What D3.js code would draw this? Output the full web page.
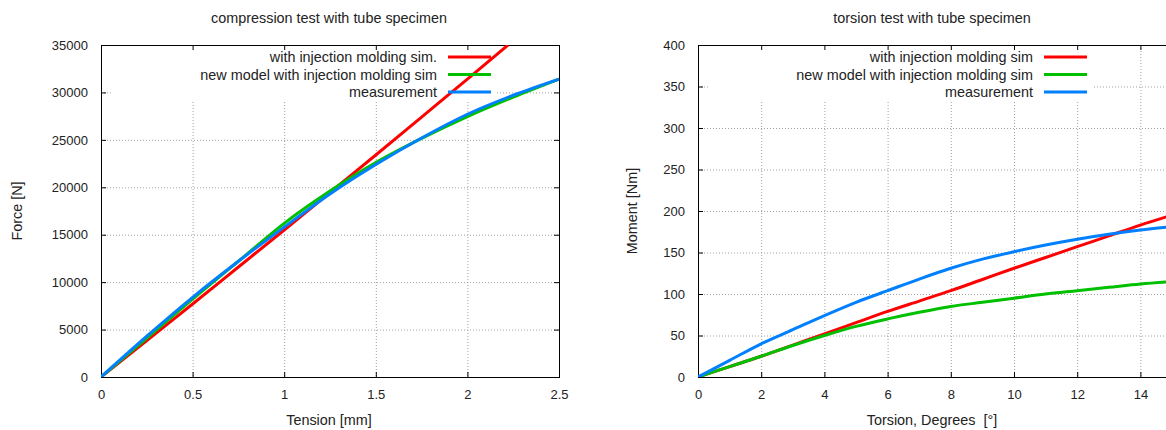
<!DOCTYPE html>
<html lang="en">
<head>
<meta charset="UTF-8">
<title>compression and torsion test with tube specimen</title>
<script src="https://d3js.org/d3.v7.min.js"></script>
<style>
  body { margin: 0; background: #fff; }
  svg text { font-family: "Liberation Sans", Arial, sans-serif; fill: #222; white-space: pre; }
</style>
</head>
<body>
<div id="chart"></div>
<script>
// ---- data ----
const seriesNames = ["with injection molding sim.", "new model with injection molding sim", "measurement"];
const seriesNames2 = ["with injection molding sim", "new model with injection molding sim", "measurement"];
const seriesColors = ["#ff0000", "#00c000", "#0080ff"];

// compression test: tension [mm] -> force [N]
const compTension = [0, 0.25, 0.5, 0.75, 1.0, 1.25, 1.5, 1.75, 2.0, 2.222];
const compSim = [0, 3850, 7700, 11600, 15500, 19450, 23400, 27400, 31400, 35000];
const compX = [0, 0.25, 0.5, 0.75, 1.0, 1.25, 1.5, 1.75, 2.0, 2.25, 2.5];
const compNew = [0, 4100, 8200, 12200, 16200, 19600, 22600, 25150, 27450, 29500, 31400];
const compMeas = [0, 4300, 8400, 12200, 15800, 19300, 22400, 25200, 27700, 29700, 31400];

// torsion test: degrees -> moment [Nm]
const torsX = [0, 1, 2, 3, 4, 5, 6, 7, 8, 9, 10, 11, 12, 13, 14, 15];
const torsSim = [0, 12.5, 25, 38.5, 52, 65.5, 79, 91.5, 104, 117.5, 131, 144, 157, 170, 183, 195];
const torsNew = [0, 12.5, 25, 38, 50, 61, 70, 78, 85, 90, 95, 100, 104, 108, 112, 115];
const torsMeas = [0, 20, 40, 57, 74, 90, 104, 118, 131, 142, 151, 159, 166, 172, 177, 181];

const compXTicks = [0, 0.5, 1, 1.5, 2, 2.5];
const compYTicks = [0, 5000, 10000, 15000, 20000, 25000, 30000, 35000];
const torsXTicks = [0, 2, 4, 6, 8, 10, 12, 14];
const torsYTicks = [0, 50, 100, 150, 200, 250, 300, 350, 400];

const W = 1166, H = 430;
const labelSize = 14.4, tickSize = 13;
const svg = d3.select("#chart").append("svg")
  .attr("width", W).attr("height", H);

function drawPanel(cfg) {
  const x = d3.scaleLinear().domain(cfg.xDomain).range([cfg.left, cfg.right]);
  const y = d3.scaleLinear().domain(cfg.yDomain).range([377, 45]);
  const g = svg.append("g");
  const clipId = "clip" + cfg.id;
  g.append("clipPath").attr("id", clipId).append("rect")
    .attr("x", cfg.left).attr("y", 45)
    .attr("width", cfg.right - cfg.left).attr("height", 332);

  // grid
  const grid = g.append("g").attr("stroke", "#a0a0a0").attr("stroke-dasharray", "1,2");
  grid.selectAll(".vg").data(cfg.xTicks.filter(d => d > cfg.xDomain[0] && d < cfg.xDomain[1]))
    .join("line")
    .attr("x1", d => x(d) + 0.5).attr("x2", d => x(d) + 0.5)
    .attr("y1", 45).attr("y2", 377);
  grid.selectAll(".hg").data(cfg.yTicks.filter(d => d > cfg.yDomain[0] && d < cfg.yDomain[1]))
    .join("line")
    .attr("x1", cfg.left).attr("x2", cfg.right)
    .attr("y1", d => y(d) + 0.5).attr("y2", d => y(d) + 0.5);

  // key area hides the grid
  g.append("rect")
    .attr("x", cfg.keyBox[0]).attr("y", 46)
    .attr("width", cfg.keyBox[1] - cfg.keyBox[0]).attr("height", 54)
    .attr("fill", "#fff");

  // axes (inward ticks, mirrored)
  const tl = 5;
  g.append("g").attr("transform", "translate(0,377)")
    .call(d3.axisBottom(x).tickValues(cfg.xTicks).tickSize(-tl).tickPadding(13).tickFormat(d3.format("")))
    .call(a => { a.select(".domain").remove(); a.selectAll("text").attr("font-size", tickSize).attr("fill", "#222"); });
  g.append("g").attr("transform", "translate(0,45)")
    .call(d3.axisTop(x).tickValues(cfg.xTicks).tickSize(-tl).tickFormat(""))
    .call(a => a.select(".domain").remove());
  g.append("g").attr("transform", `translate(${cfg.left},0)`)
    .call(d3.axisLeft(y).tickValues(cfg.yTicks).tickSize(-tl).tickPadding(cfg.yPad).tickFormat(d3.format("")))
    .call(a => { a.select(".domain").remove(); a.selectAll("text").attr("font-size", tickSize).attr("fill", "#222"); });
  g.append("g").attr("transform", `translate(${cfg.right},0)`)
    .call(d3.axisRight(y).tickValues(cfg.yTicks).tickSize(-tl).tickFormat(""))
    .call(a => a.select(".domain").remove());
  g.selectAll(".tick line").attr("stroke", "#000");

  // border
  g.append("rect")
    .attr("x", cfg.left + 0.5).attr("y", 45.5)
    .attr("width", cfg.right - cfg.left).attr("height", 332)
    .attr("fill", "none").attr("stroke", "#000").attr("stroke-width", 1);

  // series
  const line = d3.line().curve(d3.curveMonotoneX).x(d => x(d[0])).y(d => y(d[1]));
  const lines = g.append("g").attr("clip-path", `url(#${clipId})`);
  cfg.series.forEach((s, i) => {
    lines.append("path")
      .datum(s.xs.map((v, k) => [v, s.ys[k]]))
      .attr("d", line)
      .attr("fill", "none")
      .attr("stroke", seriesColors[i])
      .attr("stroke-width", 3)
      .attr("stroke-linejoin", "round");
  });

  // key
  cfg.names.forEach((n, i) => {
    const yy = 57 + i * 17.5;
    g.append("text").attr("x", cfg.keyText).attr("y", yy + 5)
      .attr("text-anchor", "end").attr("font-size", labelSize).text(n);
    g.append("line")
      .attr("x1", cfg.keyText + 11).attr("x2", cfg.keyText + 54)
      .attr("y1", yy).attr("y2", yy)
      .attr("stroke", seriesColors[i]).attr("stroke-width", 3);
  });

  // titles
  g.append("text").attr("x", cfg.titleX).attr("y", 23)
    .attr("text-anchor", "middle").attr("font-size", labelSize).text(cfg.title);
  g.append("text").attr("x", cfg.titleX).attr("y", 425)
    .attr("text-anchor", "middle").attr("font-size", labelSize).text(cfg.xLabel);
  g.append("text")
    .attr("transform", `translate(${cfg.yLabelX},211) rotate(-90)`)
    .attr("text-anchor", "middle").attr("font-size", labelSize).text(cfg.yLabel);
}

drawPanel({
  id: "a", left: 101, right: 559, xDomain: [0, 2.5], yDomain: [0, 35000],
  xTicks: compXTicks, yTicks: compYTicks, yPad: 13,
  keyBox: [113, 496], keyText: 437,
  names: seriesNames,
  series: [
    { xs: compTension, ys: compSim },
    { xs: compX, ys: compNew },
    { xs: compX, ys: compMeas }
  ],
  title: "compression test with tube specimen", titleX: 329,
  xLabel: "Tension [mm]", yLabel: "Force [N]", yLabelX: 22
});

drawPanel({
  id: "b", left: 698, right: 1172, xDomain: [0, 15], yDomain: [0, 400],
  xTicks: torsXTicks, yTicks: torsYTicks, yPad: 13,
  keyBox: [708, 1094], keyText: 1033,
  names: seriesNames2,
  series: [
    { xs: torsX, ys: torsSim },
    { xs: torsX, ys: torsNew },
    { xs: torsX, ys: torsMeas }
  ],
  title: "torsion test with tube specimen", titleX: 932,
  xLabel: "Torsion, Degrees  [°]", yLabel: "Moment [Nm]", yLabelX: 637
});
</script>
</body>
</html>
